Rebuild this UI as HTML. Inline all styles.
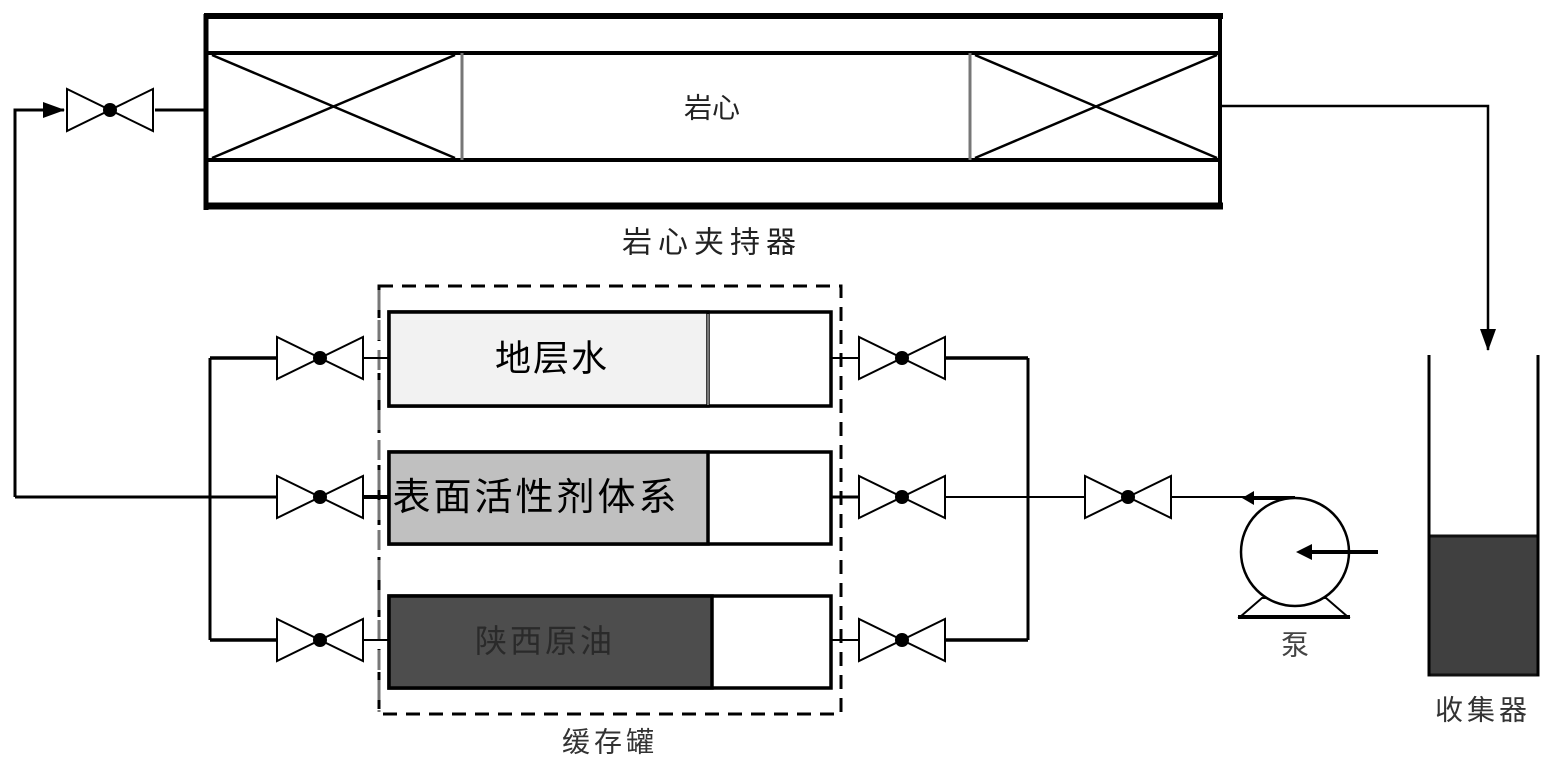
<!DOCTYPE html>
<html><head><meta charset="utf-8"><style>
body{margin:0;background:#fff}
svg{display:block}
text{font-family:"Liberation Sans","Noto Sans CJK SC",sans-serif;text-anchor:middle;dominant-baseline:central}
</style></head><body>
<svg width="1557" height="772" viewBox="0 0 1557 772">
<defs>
<g id="v"><polygon points="0,-21 0,21 43,0" fill="#fff" stroke="#000" stroke-width="2"/><polygon points="86,-21 86,21 43,0" fill="#fff" stroke="#000" stroke-width="2"/><circle cx="43" cy="0" r="7" fill="#000"/></g>
<marker id="ah" markerWidth="22" markerHeight="16" refX="21" refY="8" orient="auto" markerUnits="userSpaceOnUse"><path d="M0,0 L22,8 L0,16Z" fill="#000"/></marker>
</defs>
<g stroke="#000" fill="none">
<line x1="204" y1="16" x2="1223" y2="16" stroke-width="6"/>
<line x1="204" y1="206" x2="1223" y2="206" stroke-width="7"/>
<line x1="206" y1="14" x2="206" y2="210" stroke-width="5"/>
<line x1="1220" y1="14" x2="1220" y2="208" stroke-width="4"/>
<line x1="206" y1="53" x2="1220" y2="53" stroke-width="4"/>
<line x1="206" y1="160" x2="1220" y2="160" stroke-width="4"/>
<line x1="212" y1="55" x2="455" y2="158" stroke-width="2.5"/>
<line x1="212" y1="158" x2="455" y2="55" stroke-width="2.5"/>
<line x1="462" y1="53" x2="462" y2="160" stroke="#777" stroke-width="3"/>
<line x1="970" y1="53" x2="970" y2="160" stroke="#777" stroke-width="3"/>
<line x1="975" y1="55" x2="1217" y2="158" stroke-width="2.5"/>
<line x1="975" y1="158" x2="1217" y2="55" stroke-width="2.5"/>
</g>
<text x="712" y="108" font-size="28" fill="#222">岩心</text>
<text x="712" y="243" font-size="30" letter-spacing="6" fill="#222">岩心夹持器</text>
<use href="#v" x="67" y="110"/>
<line x1="155" y1="110" x2="205" y2="110" stroke="#000" stroke-width="3"/>
<polyline points="15,497 15,110 64,110" fill="none" stroke="#000" stroke-width="3" marker-end="url(#ah)"/>
<line x1="15" y1="497" x2="277" y2="497" stroke="#000" stroke-width="3"/>
<polyline points="1222,106 1488,106 1488,350" fill="none" stroke="#000" stroke-width="2.5" marker-end="url(#ah)"/>
<rect x="379" y="286" width="462" height="428" fill="none" stroke="#000" stroke-width="3" stroke-dasharray="14,9"/>
<line x1="379" y1="290" x2="379" y2="712" stroke="#777" stroke-width="3" stroke-dasharray="20,10"/>
<g stroke="#000" stroke-width="3.5">
<rect x="389" y="312" width="442" height="94" fill="#fff"/>
<rect x="389" y="312" width="319" height="94" fill="#f2f2f2"/>
<rect x="389" y="452" width="442" height="92" fill="#fff"/>
<rect x="389" y="452" width="319" height="92" fill="#c0c0c0"/>
<rect x="389" y="596" width="442" height="92" fill="#fff"/>
<rect x="389" y="596" width="323" height="92" fill="#4d4d4d"/>
</g>
<line x1="708" y1="314" x2="708" y2="405" stroke="#777" stroke-width="2"/>
<text x="552" y="358" font-size="36" letter-spacing="2">地层水</text>
<text x="536" y="498" font-size="38" letter-spacing="3">表面活性剂体系</text>
<text x="545" y="641" font-size="32" letter-spacing="3" fill="#2a2a2a">陕西原油</text>
<g stroke="#000" fill="none">
<line x1="210" y1="358" x2="210" y2="640" stroke-width="3"/>
<line x1="210" y1="358" x2="277" y2="358" stroke-width="3.5"/>
<line x1="210" y1="640" x2="277" y2="640" stroke-width="3.5"/>
<line x1="362" y1="358" x2="389" y2="358" stroke-width="2"/>
<line x1="362" y1="497" x2="389" y2="497" stroke-width="4"/>
<line x1="362" y1="640" x2="389" y2="640" stroke-width="2"/>
<line x1="832" y1="358" x2="858" y2="358" stroke-width="2"/>
<line x1="832" y1="497" x2="858" y2="497" stroke-width="3"/>
<line x1="832" y1="640" x2="858" y2="640" stroke-width="2"/>
<line x1="945" y1="358" x2="1028" y2="358" stroke-width="3.5"/>
<line x1="945" y1="640" x2="1028" y2="640" stroke-width="3.5"/>
<line x1="945" y1="497" x2="1085" y2="497" stroke-width="2"/>
<line x1="1028" y1="358" x2="1028" y2="640" stroke-width="3"/>
<line x1="1170" y1="497" x2="1295" y2="497" stroke-width="2"/>
<line x1="1250" y1="498" x2="1295" y2="498" stroke-width="4"/>
</g>
<use href="#v" x="277" y="358"/><use href="#v" x="277" y="497"/><use href="#v" x="277" y="640"/>
<use href="#v" x="859" y="358"/><use href="#v" x="859" y="497"/><use href="#v" x="859" y="640"/>
<use href="#v" x="1085" y="497"/>
<path d="M1242,498 L1254,491 L1254,505Z" fill="#000"/>
<path d="M1240,617 L1262,598 L1326,598 L1348,617Z" fill="#fff" stroke="#000" stroke-width="2"/>
<line x1="1238" y1="617" x2="1350" y2="617" stroke="#000" stroke-width="4"/>
<circle cx="1295" cy="552" r="54" fill="#fff" stroke="#000" stroke-width="2.5"/>
<line x1="1378" y1="552" x2="1305" y2="552" stroke="#000" stroke-width="4"/>
<path d="M1296,552 L1312,544 L1312,560Z" fill="#000"/>
<text x="1295" y="645" font-size="28" fill="#444">泵</text>
<rect x="1429" y="536" width="109" height="139" fill="#404040" stroke="#111" stroke-width="3"/>
<line x1="1429" y1="355" x2="1429" y2="676" stroke="#000" stroke-width="3"/>
<line x1="1538" y1="355" x2="1538" y2="676" stroke="#000" stroke-width="3"/>
<text x="1483" y="710" font-size="28" letter-spacing="4" fill="#333">收集器</text>
<text x="610" y="742" font-size="28" letter-spacing="4" fill="#333">缓存罐</text>
</svg>
</body></html>
